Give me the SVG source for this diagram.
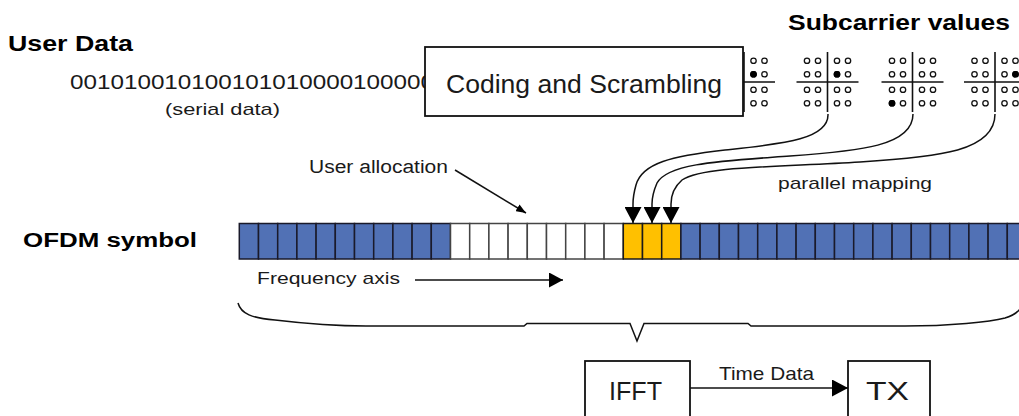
<svg xmlns="http://www.w3.org/2000/svg" xmlns:xlink="http://www.w3.org/1999/xlink" width="1019" height="416" viewBox="0 0 1019 416">
<style>
text{font-family:"Liberation Sans",Arial,sans-serif;fill:#1a1a1a}
.title{font-weight:bold;fill:#000}
.box{fill:#fff;stroke:#111;stroke-width:1.8}
.blue{fill:#5171b5;stroke:#1a1a2a;stroke-width:1.5}
.white{fill:#fff;stroke:#444;stroke-width:1.5}
.yellow{fill:#ffc000;stroke:#1a1a1a;stroke-width:1.5}
.axis{stroke:#111;stroke-width:1.6;fill:none}
.dot{fill:#fff;stroke:#111;stroke-width:1.3}
.dotf{fill:#000;stroke:#000;stroke-width:1.3}
.conn{fill:none;stroke:#111;stroke-width:1.5}
</style>
<defs>
<marker id="bigHead" markerUnits="userSpaceOnUse" markerWidth="16" markerHeight="17" refX="16" refY="8.5" orient="auto" viewBox="0 0 16 17"><path d="M0,0 L16,8.5 L0,17 Z" fill="#000"/></marker>
<marker id="midHead" markerUnits="userSpaceOnUse" markerWidth="14" markerHeight="15" refX="14" refY="7.5" orient="auto" viewBox="0 0 14 15"><path d="M0,0 L14,7.5 L0,15 Z" fill="#000"/></marker>
<marker id="smallHead" markerUnits="userSpaceOnUse" markerWidth="10" markerHeight="8" refX="10" refY="4" orient="auto" viewBox="0 0 10 8"><path d="M0,0 L10,4 L0,8 Z" fill="#000"/></marker>
<g id="constel">
<line class="axis" x1="0" y1="-30" x2="0" y2="30"/>
<line class="axis" x1="-31" y1="0" x2="31" y2="0"/>
<circle class="dot" cx="-20.5" cy="-21.25" r="2.7"/><circle class="dot" cx="-9.5" cy="-21.25" r="2.7"/><circle class="dot" cx="9.5" cy="-21.25" r="2.7"/><circle class="dot" cx="20.5" cy="-21.25" r="2.7"/>
<circle class="dot" cx="-20.5" cy="-7.75" r="2.7"/><circle class="dot" cx="-9.5" cy="-7.75" r="2.7"/><circle class="dot" cx="9.5" cy="-7.75" r="2.7"/><circle class="dot" cx="20.5" cy="-7.75" r="2.7"/>
<circle class="dot" cx="-20.5" cy="7.75" r="2.7"/><circle class="dot" cx="-9.5" cy="7.75" r="2.7"/><circle class="dot" cx="9.5" cy="7.75" r="2.7"/><circle class="dot" cx="20.5" cy="7.75" r="2.7"/>
<circle class="dot" cx="-20.5" cy="21.25" r="2.7"/><circle class="dot" cx="-9.5" cy="21.25" r="2.7"/><circle class="dot" cx="9.5" cy="21.25" r="2.7"/><circle class="dot" cx="20.5" cy="21.25" r="2.7"/>
</g>
</defs>
<rect width="1019" height="416" fill="#fff"/>

<g id="user-data">
<text class="title" x="8" y="51" font-size="22" textLength="125" lengthAdjust="spacingAndGlyphs">User Data</text>
<text x="70" y="89" font-size="21" textLength="364" lengthAdjust="spacingAndGlyphs">001010010100101010000100000</text>
<text x="165" y="115" font-size="17" textLength="115" lengthAdjust="spacingAndGlyphs">(serial data)</text>
</g>

<g id="subcarrier-values">
<text class="title" x="788" y="30" font-size="22" textLength="222" lengthAdjust="spacingAndGlyphs">Subcarrier values</text>
<g id="constellation-1" transform="translate(744,82)"><use xlink:href="#constel"/><circle class="dotf" cx="9.5" cy="-7.75" r="2.7"/></g>
<g id="constellation-2" transform="translate(827.5,82)"><use xlink:href="#constel"/><circle class="dotf" cx="9.5" cy="-7.75" r="2.7"/></g>
<g id="constellation-3" transform="translate(912.5,82)"><use xlink:href="#constel"/><circle class="dotf" cx="-20.5" cy="21.25" r="2.7"/></g>
<g id="constellation-4" transform="translate(995,82)"><use xlink:href="#constel"/><circle class="dotf" cx="20.5" cy="-7.75" r="2.7"/></g>
</g>

<g id="coding-scrambling">
<rect class="box" x="425" y="47" width="318" height="69"/>
<text x="446" y="93" font-size="26" textLength="276" lengthAdjust="spacingAndGlyphs" fill="#222">Coding and Scrambling</text>
</g>

<g id="ofdm-symbol">
<text class="title" x="23" y="247" font-size="20" textLength="174" lengthAdjust="spacingAndGlyphs">OFDM symbol</text>
<g transform="translate(0,223.5)">
<rect class="blue" x="239.3" width="19.2" height="35.5"/><rect class="blue" x="258.5" width="19.2" height="35.5"/><rect class="blue" x="277.7" width="19.2" height="35.5"/><rect class="blue" x="296.9" width="19.2" height="35.5"/><rect class="blue" x="316.1" width="19.2" height="35.5"/><rect class="blue" x="335.3" width="19.2" height="35.5"/><rect class="blue" x="354.5" width="19.2" height="35.5"/><rect class="blue" x="373.7" width="19.2" height="35.5"/><rect class="blue" x="392.9" width="19.2" height="35.5"/><rect class="blue" x="412.1" width="19.2" height="35.5"/><rect class="blue" x="431.3" width="19.2" height="35.5"/>
<rect class="white" x="450.5" width="19.2" height="35.5"/><rect class="white" x="469.7" width="19.2" height="35.5"/><rect class="white" x="488.9" width="19.2" height="35.5"/><rect class="white" x="508.1" width="19.2" height="35.5"/><rect class="white" x="527.3" width="19.2" height="35.5"/><rect class="white" x="546.5" width="19.2" height="35.5"/><rect class="white" x="565.7" width="19.2" height="35.5"/><rect class="white" x="584.9" width="19.2" height="35.5"/><rect class="white" x="604.1" width="19.2" height="35.5"/>
<rect class="yellow" x="623.3" width="19.2" height="35.5"/><rect class="yellow" x="642.5" width="19.2" height="35.5"/><rect class="yellow" x="661.7" width="19.2" height="35.5"/>
<rect class="blue" x="680.9" width="19.2" height="35.5"/><rect class="blue" x="700.1" width="19.2" height="35.5"/><rect class="blue" x="719.3" width="19.2" height="35.5"/><rect class="blue" x="738.5" width="19.2" height="35.5"/><rect class="blue" x="757.7" width="19.2" height="35.5"/><rect class="blue" x="776.9" width="19.2" height="35.5"/><rect class="blue" x="796.1" width="19.2" height="35.5"/><rect class="blue" x="815.3" width="19.2" height="35.5"/><rect class="blue" x="834.5" width="19.2" height="35.5"/><rect class="blue" x="853.7" width="19.2" height="35.5"/><rect class="blue" x="872.9" width="19.2" height="35.5"/><rect class="blue" x="892.1" width="19.2" height="35.5"/><rect class="blue" x="911.3" width="19.2" height="35.5"/><rect class="blue" x="930.5" width="19.2" height="35.5"/><rect class="blue" x="949.7" width="19.2" height="35.5"/><rect class="blue" x="968.9" width="19.2" height="35.5"/><rect class="blue" x="988.1" width="19.2" height="35.5"/><rect class="blue" x="1007.3" width="19.2" height="35.5"/>
</g>
</g>

<g id="labels">
<text x="309" y="173" font-size="18" textLength="139" lengthAdjust="spacingAndGlyphs">User allocation</text>
<text x="778" y="189" font-size="17" textLength="154" lengthAdjust="spacingAndGlyphs">parallel mapping</text>
<text x="257" y="284" font-size="17" textLength="143" lengthAdjust="spacingAndGlyphs">Frequency axis</text>
<text x="719" y="380" font-size="19" textLength="95" lengthAdjust="spacingAndGlyphs">Time Data</text>
</g>

<g id="ifft">
<rect class="box" x="585" y="361" width="105" height="70"/>
<text x="609" y="400" font-size="25" textLength="53" lengthAdjust="spacingAndGlyphs">IFFT</text>
</g>

<g id="tx">
<rect class="box" x="848" y="361" width="82" height="70"/>
<text x="866" y="400" font-size="25" textLength="43" lengthAdjust="spacingAndGlyphs">TX</text>
</g>

<g id="connectors">
<path class="conn" d="M828,114 C829,140 780,144 725,150 C672,156 642,163 636,185 C634,192 633,198 633,204 L633,223" marker-end="url(#bigHead)"/>
<path class="conn" d="M913,114 C913,146 860,151 790,156 C722,161 668,163 657,183 C654,190 652,197 652,204 L652,223" marker-end="url(#bigHead)"/>
<path class="conn" d="M995,114 C995,151 940,157 860,162 C780,167 702,166 682,180 C674,187 671,196 671,204 L671,223" marker-end="url(#bigHead)"/>
<path class="conn" d="M455,170 L526,213" marker-end="url(#smallHead)"/>
<path class="conn" d="M415,280 L563,280" marker-end="url(#midHead)"/>
<path class="conn" d="M690,388 L848,388" marker-end="url(#bigHead)"/>
<path class="conn" id="brace" stroke-width="1.8" d="M238,303 C241,314 252,318 275,320 C300,323 330,326 366,326 L524,326 L527,323.5 L630,323.5 L637,341 L644,323.5 L748,323.5 L751,326 L905,326 C950,326 990,322 1005,318 C1015,315 1020,311 1022,305"/>
</g>
</svg>
